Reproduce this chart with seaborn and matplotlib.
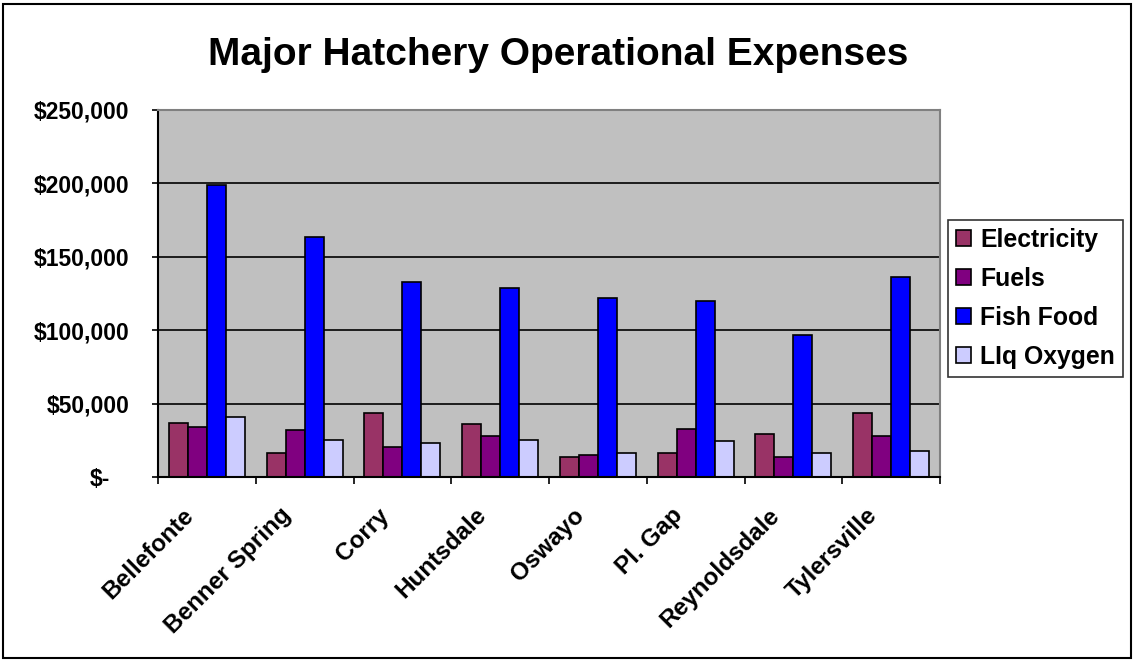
import matplotlib
matplotlib.use("Agg")
import matplotlib.pyplot as plt
import matplotlib.ticker as mticker
import matplotlib.transforms as mtransforms
from matplotlib.patches import Rectangle
import seaborn as sns
import pandas as pd

hatcheries = ["Bellefonte", "Benner Spring", "Corry", "Huntsdale", "Oswayo",
              "Pl. Gap", "Reynoldsdale", "Tylersville"]
series_names = ["Electricity", "Fuels", "Fish Food", "LIq Oxygen"]
electricity = [36900, 16400, 43300, 36000, 13900, 16600, 29400, 43300]
fuels = [34200, 31900, 20500, 28000, 15300, 33000, 13900, 28000]
fish_food = [198800, 163500, 132700, 128600, 122200, 120000, 96900, 136300]
liq_oxygen = [40800, 25500, 23000, 25500, 16600, 24200, 16600, 17800]
y_ticks = [0, 50000, 100000, 150000, 200000, 250000]

colors = ["#993366", "#800080", "#0000FF", "#CCCCFF"]

rows = []
for name, vals in zip(series_names, [electricity, fuels, fish_food, liq_oxygen]):
    for h, v in zip(hatcheries, vals):
        rows.append({"Hatchery": h, "Series": name, "Value": v})
df = pd.DataFrame(rows)

sns.set_style("white")
plt.rcParams["font.family"] = ["Liberation Sans", "DejaVu Sans"]
plt.rcParams["font.weight"] = "bold"
plt.rcParams["text.color"] = "black"
plt.rcParams["axes.labelcolor"] = "black"
plt.rcParams["xtick.color"] = "black"
plt.rcParams["ytick.color"] = "black"

fig = plt.figure(figsize=(11.34, 6.6), dpi=100)
ax = fig.add_axes([158 / 1134, 1 - 477 / 660, (940 - 158) / 1134, (477 - 110) / 660])

sns.barplot(data=df, x="Hatchery", y="Value", hue="Series", order=hatcheries,
            hue_order=series_names, palette=colors, saturation=1, width=0.78,
            edgecolor="black", linewidth=1.2, ax=ax, errorbar=None, legend=True)

ax.set_facecolor("#C0C0C0")
ax.set_ylim(0, 250000)
ax.set_xlim(-0.5, len(hatcheries) - 0.5)
ax.set_yticks(y_ticks)
ax.yaxis.set_major_formatter(mticker.FuncFormatter(
    lambda v, p: "$-" if v == 0 else "${:,.0f}".format(v)))
ax.grid(axis="y", color="black", linewidth=1.2)
ax.set_axisbelow(True)
ax.set_xlabel("")
ax.set_ylabel("")

# category ticks at boundaries, labels at centres
ax.set_xticks(range(len(hatcheries)))
ax.set_xticks([i - 0.5 for i in range(len(hatcheries) + 1)], minor=True)
ax.tick_params(axis="x", which="major", bottom=True, length=0, pad=25)
ax.tick_params(axis="x", which="minor", bottom=True, length=5, width=1.2,
               color="black", direction="out")
ax.tick_params(axis="y", which="major", left=True, length=4.5, width=1.2,
               color="black", direction="out", pad=16,
               labelsize=16.5, labelcolor="black")
ax.set_xticklabels(hatcheries, rotation=45, ha="right", va="center",
                   rotation_mode="anchor", fontsize=17.5, fontweight="bold",
                   color="black")
offset = mtransforms.ScaledTranslation(-17 / 100, 0, fig.dpi_scale_trans)
for lab in ax.get_xticklabels():
    lab.set_transform(lab.get_transform() + offset)
for lab in ax.get_yticklabels():
    lab.set_fontweight("bold")
# accounting-style zero label sits further left
zero_tick = ax.yaxis.get_major_ticks()[0]
zero_tick.label1.set_transform(zero_tick.label1.get_transform() +
                               mtransforms.ScaledTranslation(-20 / 100, 0, fig.dpi_scale_trans))

for s in ["left", "bottom"]:
    ax.spines[s].set_color("black")
    ax.spines[s].set_linewidth(1.5)
for s in ["top", "right"]:
    ax.spines[s].set_color("#808080")
    ax.spines[s].set_linewidth(1.5)

leg = ax.legend(loc="upper left", bbox_to_anchor=(948 / 1134, 1 - 220 / 660),
                bbox_transform=fig.transFigure, frameon=True, fancybox=False,
                edgecolor="black", prop={"size": 17.8, "weight": "bold"},
                handlelength=0.62, handleheight=0.62, handletextpad=0.35,
                labelspacing=0.6, borderpad=0.33, borderaxespad=0)
leg.get_frame().set_linewidth(1.2)
for h in leg.legend_handles:
    h.set_edgecolor("black")
    h.set_linewidth(1.2)
for t in leg.get_texts():
    t.set_color("black")

fig.text(558 / 1134, 1 - 55 / 660, "Major Hatchery Operational Expenses",
         ha="center", va="center", fontsize=28, fontweight="bold", color="black")

fig.patches.append(Rectangle((3 / 1134, 2 / 660), 1128 / 1134, 654 / 660,
                             transform=fig.transFigure, fill=False,
                             edgecolor="black", linewidth=1.5))

fig.savefig("out.png", dpi=100)
